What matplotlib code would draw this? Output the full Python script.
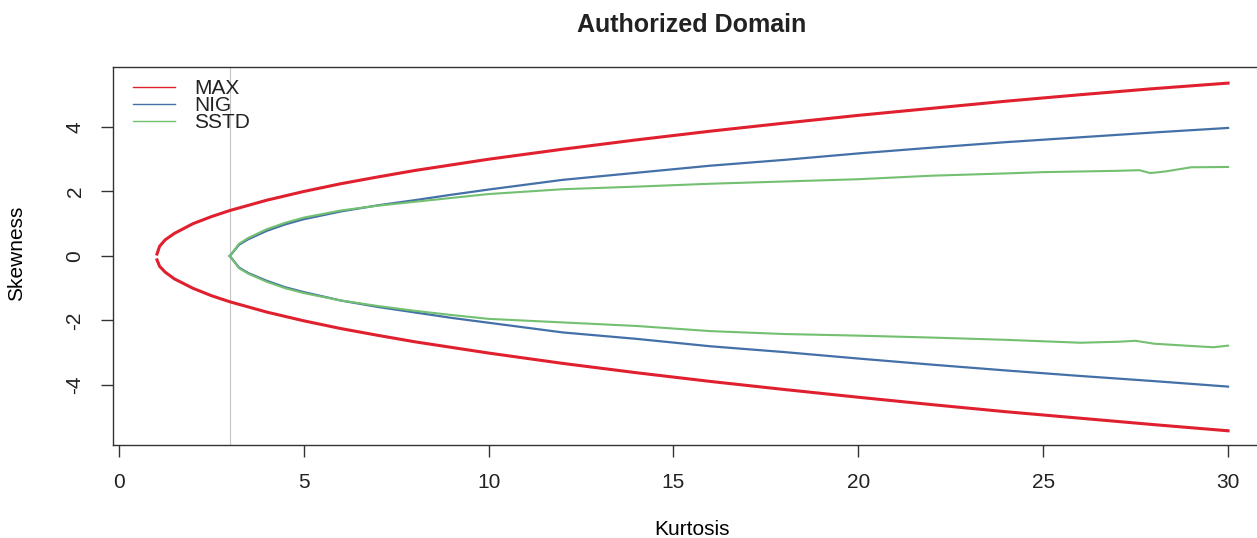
"""
Authorized domain plot: skewness / kurtosis boundaries for MAX, NIG and SSTD.
"""
import matplotlib

matplotlib.use("Agg")
import matplotlib.pyplot as plt
from matplotlib.lines import Line2D

# ---------------------------------------------------------------------------
# Data
# ---------------------------------------------------------------------------

max_kurt = [1.03, 1.1, 1.25, 1.5, 2, 2.5, 3, 4, 5, 6, 7, 8, 10, 12, 14,
            16, 18, 20, 22, 24, 26, 28, 30]
max_upper = [0.06, 0.3, 0.5, 0.7, 1.0, 1.22, 1.41, 1.73, 2.0, 2.24, 2.45,
             2.65, 3.0, 3.31, 3.6, 3.87, 4.12, 4.36, 4.58, 4.8, 5.0, 5.19, 5.36]
max_lower = [-0.12, -0.32, -0.5, -0.71, -1.0, -1.23, -1.42, -1.74, -2.01,
             -2.25, -2.46, -2.66, -3.01, -3.33, -3.62, -3.89, -4.14, -4.38,
             -4.61, -4.83, -5.03, -5.23, -5.42]

nig_kurt = [3, 3.25, 3.5, 4, 4.5, 5, 6, 7, 8, 9, 10, 12, 14, 16, 18, 20,
            22, 24, 26, 28, 30]
nig_upper = [0.0, 0.35, 0.52, 0.78, 0.98, 1.14, 1.38, 1.57, 1.73, 1.9, 2.06,
             2.36, 2.58, 2.8, 2.98, 3.18, 3.36, 3.53, 3.68, 3.83, 3.97]
nig_lower = [0.0, -0.36, -0.53, -0.77, -0.97, -1.12, -1.38, -1.58, -1.75,
             -1.92, -2.07, -2.37, -2.57, -2.8, -2.98, -3.18, -3.37, -3.55,
             -3.72, -3.88, -4.05]

sstd_kurt_up = [3, 3.25, 3.5, 4, 4.5, 5, 6, 7, 8, 9, 10, 12, 14, 16, 18,
                20, 22, 24, 25, 26, 27, 27.6, 27.9, 28.3, 29, 30]
sstd_upper = [0.0, 0.38, 0.56, 0.83, 1.03, 1.19, 1.41, 1.56, 1.68, 1.8, 1.92,
              2.07, 2.15, 2.24, 2.31, 2.38, 2.49, 2.56, 2.6, 2.62, 2.64, 2.66,
              2.57, 2.62, 2.75, 2.76]
sstd_kurt_lo = [3, 3.25, 3.5, 4, 4.5, 5, 6, 7, 8, 9, 10, 12, 14, 16, 18,
                20, 22, 24, 26, 27, 27.5, 28, 29, 29.6, 30]
sstd_lower = [0.0, -0.38, -0.55, -0.8, -1.0, -1.15, -1.38, -1.55, -1.7,
              -1.83, -1.95, -2.06, -2.17, -2.33, -2.42, -2.47, -2.53, -2.6,
              -2.69, -2.66, -2.63, -2.72, -2.79, -2.83, -2.78]

x_ticks = [0, 5, 10, 15, 20, 25, 30]
y_ticks = [-4, -2, 0, 2, 4]
series_names = ["MAX", "NIG", "SSTD"]

# ---------------------------------------------------------------------------
# Style
# ---------------------------------------------------------------------------

COLOURS = {"MAX": "#E0202E", "NIG": "#4470A8", "SSTD": "#72C070"}
WIDTHS = {"MAX": 2.2, "NIG": 1.6, "SSTD": 1.5}
TEXT_COLOUR = "#222222"
FONT_SIZE = 15

plt.rcParams["font.family"] = ["Liberation Sans", "DejaVu Sans"]
plt.rcParams["font.size"] = FONT_SIZE
plt.rcParams["text.color"] = TEXT_COLOUR
plt.rcParams["xtick.color"] = "#333333"
plt.rcParams["ytick.color"] = "#333333"
plt.rcParams["xtick.labelcolor"] = TEXT_COLOUR
plt.rcParams["ytick.labelcolor"] = TEXT_COLOUR


def plot_domain(output_path: str) -> None:
    """Draw the MAX / NIG / SSTD skewness bounds against kurtosis."""
    fig = plt.figure(figsize=(12.57, 5.38), dpi=100)
    # right edge of the box falls outside the canvas, as in the reference
    ax = fig.add_axes([0.0899, 0.1729, 0.9212, 0.7026])

    ax.axvline(3, color="#c4c4c4", linewidth=0.8, zorder=1)

    ax.plot(max_kurt, max_upper, color=COLOURS["MAX"], linewidth=WIDTHS["MAX"])
    ax.plot(max_kurt, max_lower, color=COLOURS["MAX"], linewidth=WIDTHS["MAX"])
    ax.plot(nig_kurt, nig_upper, color=COLOURS["NIG"], linewidth=WIDTHS["NIG"])
    ax.plot(nig_kurt, nig_lower, color=COLOURS["NIG"], linewidth=WIDTHS["NIG"])
    ax.plot(sstd_kurt_up, sstd_upper, color=COLOURS["SSTD"],
            linewidth=WIDTHS["SSTD"])
    ax.plot(sstd_kurt_lo, sstd_lower, color=COLOURS["SSTD"],
            linewidth=WIDTHS["SSTD"])

    ax.set_xlim(-0.16, 31.16)
    ax.set_ylim(-5.86, 5.86)

    ax.set_xticks(x_ticks)
    ax.set_xticklabels([str(t) for t in x_ticks])
    ax.set_yticks(y_ticks)
    ax.set_yticklabels([str(t) for t in y_ticks], rotation=90, va="center")
    ax.tick_params(axis="both", direction="out", length=8.5, width=1.0,
                   pad=12)

    for spine in ax.spines.values():
        spine.set_color("#333333")
        spine.set_linewidth(1.0)

    ax.set_xlabel("Kurtosis", va="center")
    ax.xaxis.set_label_coords(0.5, -0.223)
    ax.set_ylabel("Skewness", va="center")
    ax.yaxis.set_label_coords(-0.083, 0.508)

    ax.set_title("Authorized Domain", fontsize=18, fontweight="bold", pad=25)

    handles = [Line2D([], [], color=COLOURS[name], linewidth=1.0)
               for name in series_names]
    ax.legend(handles, series_names, loc="upper left",
              bbox_to_anchor=(0.0173, 0.967), frameon=False,
              borderaxespad=0.0, borderpad=0.0, handlelength=2.0,
              handletextpad=0.95, labelspacing=-0.11, fontsize=FONT_SIZE)

    fig.savefig(output_path, dpi=100)
    plt.close(fig)


if __name__ == "__main__":
    plot_domain("out.png")
